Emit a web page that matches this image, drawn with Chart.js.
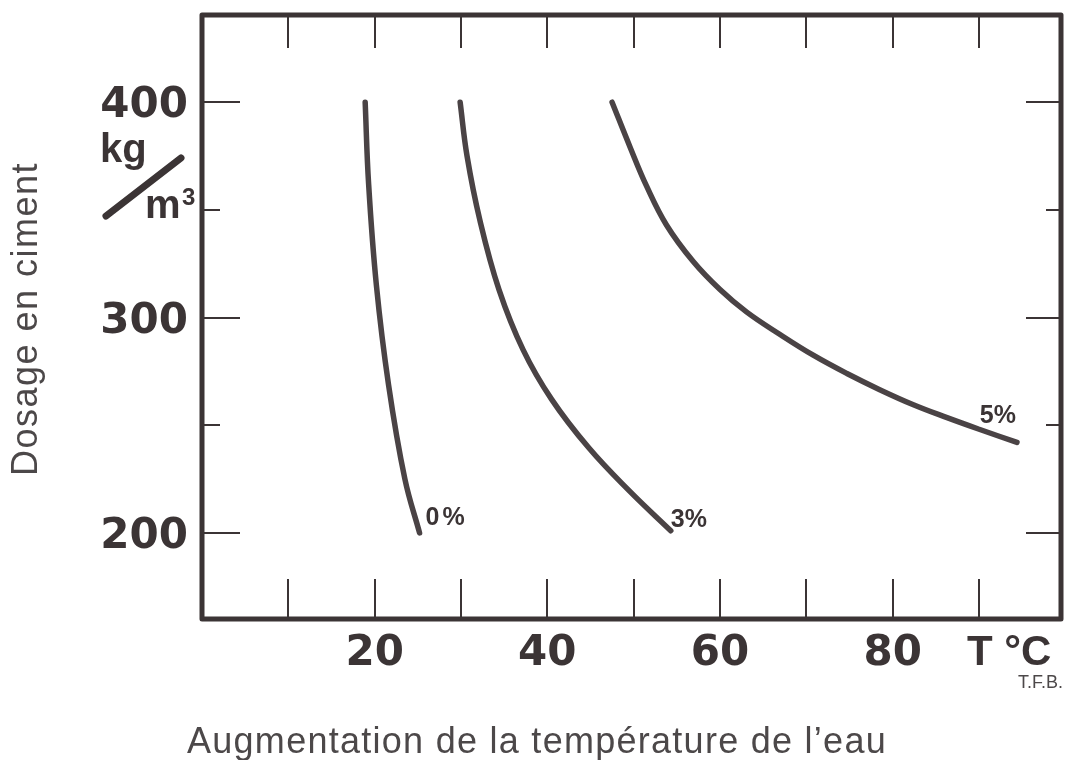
<!DOCTYPE html>
<html><head><meta charset="utf-8">
<script src="https://cdn.jsdelivr.net/npm/chart.js@4.4.1/dist/chart.umd.min.js"></script>
<style>html,body{margin:0;padding:0;background:#fff;}canvas{display:block;}</style>
</head><body>
<canvas id="c" width="1070" height="760"></canvas>
<script>
// ---- data ----
const seriesNames = ['0%', '3%', '5%'];
const temp0 = [18.9, 19.3, 20.2, 21.6, 23.5, 25.2];
const dose0 = [400, 362, 315, 269, 225, 200];
const temp3 = [29.9, 30.7, 32.2, 34.4, 37.2, 40.5, 44.8, 49.5, 54.3];
const dose3 = [400, 375, 345, 313, 285, 262, 239.5, 219.5, 201];
const temp5 = [47.5, 49.6, 51.5, 53.8, 56.9, 60.0, 63.1, 67.0, 70.8, 74.7, 78.5, 82.4, 86.3, 90.1, 94.4];
const dose5 = [400, 379, 361, 343, 326, 313, 302.5, 292, 282.5, 274, 266.5, 259.5, 253.5, 248, 242];

const xTickValues = [10, 20, 30, 40, 50, 60, 70, 80, 90];
const xTickLabels = ['20', '40', '60', '80'];
const xLabelValues = [20, 40, 60, 80];
const yTickValues = [200, 250, 300, 350, 400];
const yLabelValues = [200, 300, 400];
const yTickLabels = ['200', '300', '400'];
const xUnit = 'T °C';
const xUnitValue = 90;
const xTitle = 'Augmentation de la température de l’eau';
const yTitle = 'Dosage en ciment';
const yUnitTop = 'kg', yUnitBottom = 'm', yUnitExp = '3';
const sourceNote = 'T.F.B.';

const INK = '#3b3435';
const LINE = '#4a4345';
const GREY = '#4c4849';

function pts(xs, ys) { return xs.map((v, i) => ({ x: v, y: ys[i] })); }

const framePlugin = {
  id: 'frame',
  afterDatasetsDraw(chart) {
    const { ctx, chartArea: a, scales: { x, y } } = chart;
    const line = (x1, y1, x2, y2) => { ctx.beginPath(); ctx.moveTo(x1, y1); ctx.lineTo(x2, y2); ctx.stroke(); };
    ctx.save();
    ctx.strokeStyle = INK;
    ctx.lineCap = 'butt';
    ctx.lineWidth = 2;
    xTickValues.forEach(v => {
      const px = Math.round(x.getPixelForValue(v));
      line(px, a.bottom, px, a.bottom - 40);
      line(px, a.top, px, a.top + 33);
    });
    yTickValues.forEach(v => {
      const py = Math.round(y.getPixelForValue(v));
      const major = v % 100 === 0;
      line(a.left, py, a.left + (major ? 38 : 18), py);
      line(a.right, py, a.right - (major ? 35 : 15), py);
    });
    ctx.lineWidth = 5;
    ctx.lineJoin = 'round';
    ctx.strokeRect(a.left, a.top, a.right - a.left, a.bottom - a.top);

    // tick labels
    ctx.fillStyle = INK;
    ctx.font = 'bold 42px "DejaVu Sans"';
    ctx.textAlign = 'right';
    ctx.textBaseline = 'alphabetic';
    yLabelValues.forEach((v, i) => {
      ctx.fillText(yTickLabels[i], 188, y.getPixelForValue(v) + 15);
    });
    ctx.textAlign = 'center';
    xLabelValues.forEach((v, i) => {
      ctx.fillText(xTickLabels[i], x.getPixelForValue(v), 665);
    });
    ctx.textAlign = 'left';
    ctx.font = 'bold 42px "Liberation Sans"';
    ctx.fillText(xUnit, x.getPixelForValue(xUnitValue) - 12, 665);

    // unit kg/m3
    ctx.font = 'bold 40px "Liberation Sans"';
    ctx.fillText(yUnitTop, 100, 162);
    ctx.fillText(yUnitBottom, 145, 218);
    ctx.font = 'bold 24px "Liberation Sans"';
    ctx.fillText(yUnitExp, 182, 205);
    ctx.lineWidth = 7;
    ctx.lineCap = 'round';
    line(106, 216, 181, 158);

    // source
    ctx.fillStyle = GREY;
    ctx.font = '18px "Liberation Sans"';
    ctx.textAlign = 'right';
    ctx.fillText(sourceNote, 1063, 688);

    // series labels
    ctx.fillStyle = INK;
    ctx.font = 'bold 25px "Liberation Sans"';
    const ends = chart.data.datasets.map(ds => ds.data[ds.data.length - 1]);
    const e0 = ends[0], e3 = ends[1], e5 = ends[2];
    ctx.textAlign = 'left';
    ctx.letterSpacing = '3px';
    ctx.fillText(seriesNames[0], x.getPixelForValue(e0.x) + 6, y.getPixelForValue(e0.y) - 8);
    ctx.letterSpacing = '0px';
    ctx.fillText(seriesNames[1], x.getPixelForValue(e3.x) + 0, y.getPixelForValue(e3.y) - 4);
    ctx.textAlign = 'right';
    ctx.fillText(seriesNames[2], x.getPixelForValue(e5.x) - 1, y.getPixelForValue(e5.y) - 19);

    // axis titles (fit to measured length)
    ctx.fillStyle = GREY;
    ctx.textAlign = 'left';
    ctx.font = '36px "Liberation Sans"';
    const fit = (txt, target) => {
      ctx.letterSpacing = '0px';
      const w = ctx.measureText(txt).width;
      ctx.letterSpacing = ((target - w) / txt.length) + 'px';
    };
    fit(xTitle, 700);
    ctx.fillText(xTitle, 187, 753);
    ctx.save();
    ctx.translate(37, 476);
    ctx.rotate(-Math.PI / 2);
    fit(yTitle, 314);
    ctx.fillText(yTitle, 0, 0);
    ctx.restore();
    ctx.restore();
  }
};

const mk = (xs, ys) => ({
  data: pts(xs, ys),
  borderColor: LINE,
  borderWidth: 5.5,
  borderCapStyle: 'round',
  borderJoinStyle: 'round',
  pointRadius: 0,
  fill: false,
  cubicInterpolationMode: 'default',
  tension: 0.4
});

new Chart(document.getElementById('c'), {
  type: 'line',
  data: {
    datasets: [mk(temp0, dose0), mk(temp3, dose3), mk(temp5, dose5)].map((d, i) => Object.assign(d, { label: seriesNames[i] }))
  },
  options: {
    responsive: false,
    animation: false,
    layout: { padding: { left: 202, right: 9, top: 15, bottom: 141 } },
    plugins: { legend: { display: false }, tooltip: { enabled: false } },
    scales: {
      x: { type: 'linear', min: 0, max: 99.5, display: false },
      y: { type: 'linear', min: 160, max: 440.5, display: false }
    }
  },
  plugins: [framePlugin]
});
</script>
</body></html>
